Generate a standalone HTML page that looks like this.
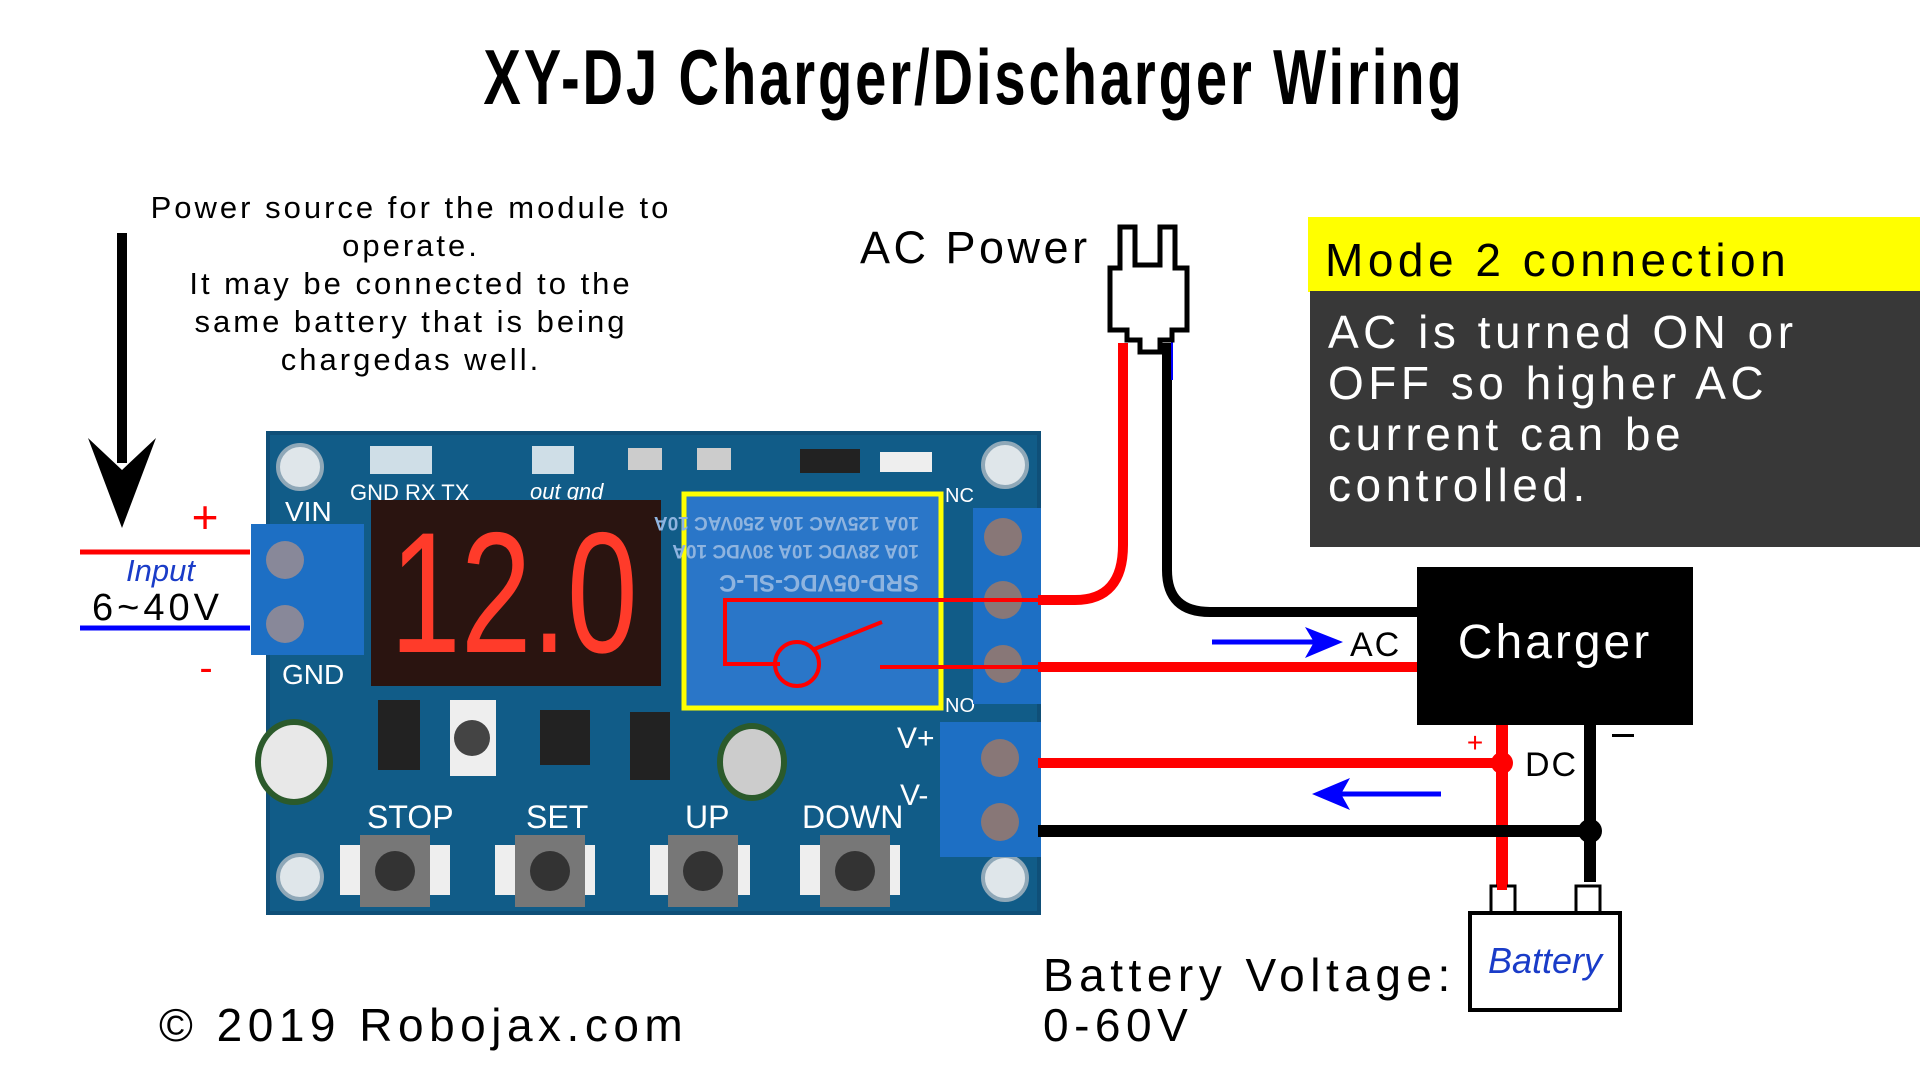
<!DOCTYPE html>
<html><head><meta charset="utf-8"><style>
html,body{margin:0;padding:0;background:#fff;width:1920px;height:1080px;overflow:hidden}
svg{display:block}
text{font-family:"Liberation Sans",sans-serif}
</style></head><body>
<svg width="1920" height="1080" viewBox="0 0 1920 1080" xmlns="http://www.w3.org/2000/svg">
<rect width="1920" height="1080" fill="#fff"/>
<text x="974" y="104" text-anchor="middle" font-size="78" font-weight="bold" fill="#000" transform="translate(974 0) scale(0.72 1) translate(-974 0)" style="letter-spacing:4px">XY-DJ Charger/Discharger Wiring</text>

<g font-size="31" fill="#000" text-anchor="middle" style="letter-spacing:3px">
<text x="411" y="218">Power source for the module to</text>
<text x="411" y="256">operate.</text>
<text x="411" y="294">It may be connected to the</text>
<text x="411" y="332">same battery  that is being</text>
<text x="411" y="370">chargedas well.</text>
</g>
<rect x="117" y="233" width="10" height="230" fill="#000"/>
<path d="M88 438 L122 528 L156 438 L122 470 Z" fill="#000"/>

<line x1="80" y1="552" x2="250" y2="552" stroke="#f00" stroke-width="5"/>
<line x1="80" y1="628" x2="250" y2="628" stroke="#00f" stroke-width="5"/>
<text x="205" y="533" font-size="46" fill="#f00" text-anchor="middle">+</text>
<text x="206" y="681" font-size="40" fill="#f00" text-anchor="middle">-</text>
<text x="126" y="581" font-size="31" fill="#1a3cc8" font-style="italic">Input</text>
<text x="92" y="620" font-size="38" fill="#000" style="letter-spacing:4px">6~40V</text>

<rect x="266" y="431" width="775" height="484" fill="#0f4f78"/>
<rect x="270" y="435" width="767" height="476" fill="#115c88"/>
<g fill="#dfe6ea" stroke="#8fa8b8" stroke-width="4">
<circle cx="300" cy="467" r="22"/><circle cx="1005" cy="465" r="22"/>
<circle cx="300" cy="877" r="22"/><circle cx="1005" cy="878" r="22"/>
</g>
<g fill="#fff" font-size="22">
<text x="350" y="500">GND RX TX</text>
<text x="530" y="499" font-style="italic">out gnd</text>
<text x="285" y="521" font-size="28">VIN</text>
<text x="282" y="684" font-size="28">GND</text>
<text x="367" y="828" font-size="32">STOP</text>
<text x="526" y="828" font-size="32">SET</text>
<text x="685" y="828" font-size="32">UP</text>
<text x="802" y="828" font-size="32">DOWN</text>
<text x="897" y="748" font-size="30">V+</text>
<text x="900" y="805" font-size="30">V-</text>
<text x="945" y="502" font-size="20">NC</text>
<text x="945" y="712" font-size="20">NO</text>
</g>
<rect x="370" y="446" width="62" height="28" fill="#fff" opacity=".8"/>
<rect x="532" y="446" width="42" height="28" fill="#fff" opacity=".8"/>
<rect x="800" y="449" width="60" height="24" fill="#222"/>
<rect x="880" y="452" width="52" height="20" fill="#eee"/>
<rect x="628" y="448" width="34" height="22" fill="#ccc"/>
<rect x="697" y="448" width="34" height="22" fill="#ccc"/>
<rect x="371" y="500" width="290" height="186" fill="#2a1410"/>
<g fill="#ff3b2a" font-size="172">
<text x="390" y="652" transform="translate(390 0) scale(0.74 1) translate(-390 0)">12.0</text>
</g>
<rect x="251" y="524" width="113" height="131" fill="#1d6fc4"/>
<circle cx="285" cy="560" r="19" fill="#889"/><circle cx="285" cy="624" r="19" fill="#889"/>
<rect x="684" y="494" width="257" height="214" fill="#2a76c8" stroke="#ffff00" stroke-width="5"/>
<g fill="#8fb4df" font-size="24" font-weight="bold" transform="rotate(180 812 550)">
<text x="705" y="525">SRD-05VDC-SL-C</text>
<text x="705" y="555" font-size="19">10A 28VDC  10A 30VDC  10A</text>
<text x="705" y="583" font-size="19">10A 125VAC 10A 250VAC 10A</text>
</g>
<rect x="973" y="508" width="68" height="196" fill="#1d6fc4"/>
<circle cx="1003" cy="537" r="19" fill="#877"/><circle cx="1003" cy="600" r="19" fill="#877"/><circle cx="1003" cy="664" r="19" fill="#877"/>
<rect x="940" y="722" width="101" height="135" fill="#1d6fc4"/>
<circle cx="1000" cy="758" r="19" fill="#877"/><circle cx="1000" cy="822" r="19" fill="#877"/>
<ellipse cx="294" cy="762" rx="36" ry="40" fill="#e8e8e8" stroke="#2b5a2b" stroke-width="6"/>
<ellipse cx="752" cy="762" rx="32" ry="36" fill="#ccc" stroke="#2b5a2b" stroke-width="6"/>
<rect x="378" y="700" width="42" height="70" fill="#222"/>
<rect x="450" y="700" width="46" height="76" fill="#eee"/><circle cx="472" cy="738" r="18" fill="#444"/>
<rect x="540" y="710" width="50" height="55" fill="#222"/>
<rect x="630" y="712" width="40" height="68" fill="#222"/>
<g fill="#eee"><rect x="340" y="845" width="110" height="50"/><rect x="495" y="845" width="100" height="50"/><rect x="650" y="845" width="100" height="50"/><rect x="800" y="845" width="100" height="50"/></g>
<g fill="#777"><rect x="360" y="835" width="70" height="72"/><rect x="515" y="835" width="70" height="72"/><rect x="668" y="835" width="70" height="72"/><rect x="820" y="835" width="70" height="72"/></g>
<g fill="#333"><circle cx="395" cy="871" r="20"/><circle cx="550" cy="871" r="20"/><circle cx="703" cy="871" r="20"/><circle cx="855" cy="871" r="20"/></g>
<path d="M1040 600 L725 600 L725 664 L780 664" fill="none" stroke="#f00" stroke-width="4"/>
<circle cx="797" cy="664" r="22" fill="none" stroke="#f00" stroke-width="4"/>
<line x1="812" y1="650" x2="882" y2="622" stroke="#f00" stroke-width="4"/>
<line x1="880" y1="667" x2="1040" y2="667" stroke="#f00" stroke-width="4"/>

<path d="M1038 600 L1075 600 Q1123 600 1123 545 L1123 343" fill="none" stroke="#f00" stroke-width="10"/>
<path d="M1167 343 L1167 570 Q1167 612 1210 612 L1420 612" fill="none" stroke="#000" stroke-width="10"/>
<line x1="1172" y1="340" x2="1172" y2="380" stroke="#00f" stroke-width="2"/>
<line x1="1038" y1="667" x2="1420" y2="667" stroke="#f00" stroke-width="10"/>
<line x1="1038" y1="763" x2="1502" y2="763" stroke="#f00" stroke-width="10"/>
<line x1="1502" y1="722" x2="1502" y2="890" stroke="#f00" stroke-width="12"/>
<circle cx="1502" cy="763" r="11" fill="#f00"/>
<line x1="1038" y1="831" x2="1590" y2="831" stroke="#000" stroke-width="12"/>
<line x1="1590" y1="722" x2="1590" y2="882" stroke="#000" stroke-width="12"/>
<circle cx="1590" cy="831" r="12" fill="#000"/>

<path d="M1120 227 L1135 227 L1135 265 L1160 265 L1160 227 L1175 227 L1175 268 L1187 268 L1187 330 L1172 330 L1172 340 L1160 340 L1160 352 L1140 352 L1140 340 L1127 340 L1127 330 L1110 330 L1110 268 L1120 268 Z" fill="#fff" stroke="#000" stroke-width="5"/>
<text x="860" y="263" font-size="45" fill="#000" style="letter-spacing:3.5px">AC Power</text>

<line x1="1212" y1="642" x2="1320" y2="642" stroke="#00f" stroke-width="5"/>
<path d="M1305 627 L1343 642 L1305 658 L1314 642 Z" fill="#00f"/>
<line x1="1330" y1="794" x2="1441" y2="794" stroke="#00f" stroke-width="5"/>
<path d="M1350 778 L1312 794 L1350 810 L1341 794 Z" fill="#00f"/>
<text x="1350" y="656" font-size="34" fill="#000" style="letter-spacing:2px">AC</text>

<rect x="1417" y="567" width="276" height="158" fill="#000"/>
<text x="1555" y="658" font-size="48" fill="#fff" text-anchor="middle" style="letter-spacing:3px">Charger</text>
<text x="1475" y="752" font-size="28" fill="#f00" text-anchor="middle">+</text>
<rect x="1612" y="734" width="22" height="3" fill="#000"/>
<text x="1525" y="776" font-size="34" fill="#000" style="letter-spacing:2px">DC</text>

<rect x="1491" y="886" width="24" height="27" fill="#fff" stroke="#000" stroke-width="3"/>
<rect x="1576" y="886" width="24" height="27" fill="#fff" stroke="#000" stroke-width="3"/>
<line x1="1502" y1="880" x2="1502" y2="890" stroke="#f00" stroke-width="10"/>
<rect x="1470" y="913" width="150" height="97" fill="#fff" stroke="#000" stroke-width="4"/>
<text x="1545" y="973" font-size="36" fill="#1a3cc8" font-style="italic" text-anchor="middle">Battery</text>

<rect x="1308" y="217" width="612" height="75" fill="#ffff00"/>
<rect x="1310" y="291" width="610" height="256" fill="#383838"/>
<text x="1325" y="276" font-size="46" fill="#000" style="letter-spacing:4.5px">Mode 2 connection</text>
<g font-size="46" fill="#fff" style="letter-spacing:4.5px">
<text x="1328" y="348">AC is turned ON or</text>
<text x="1328" y="399">OFF so higher AC</text>
<text x="1328" y="450">current can be</text>
<text x="1328" y="501">controlled.</text>
</g>

<g font-size="46" fill="#000" style="letter-spacing:5.5px">
<text x="1043" y="991">Battery Voltage:</text>
<text x="1043" y="1041">0-60V</text>
<text x="159" y="1041">© 2019 Robojax.com</text>
</g>
</svg>
</body></html>
